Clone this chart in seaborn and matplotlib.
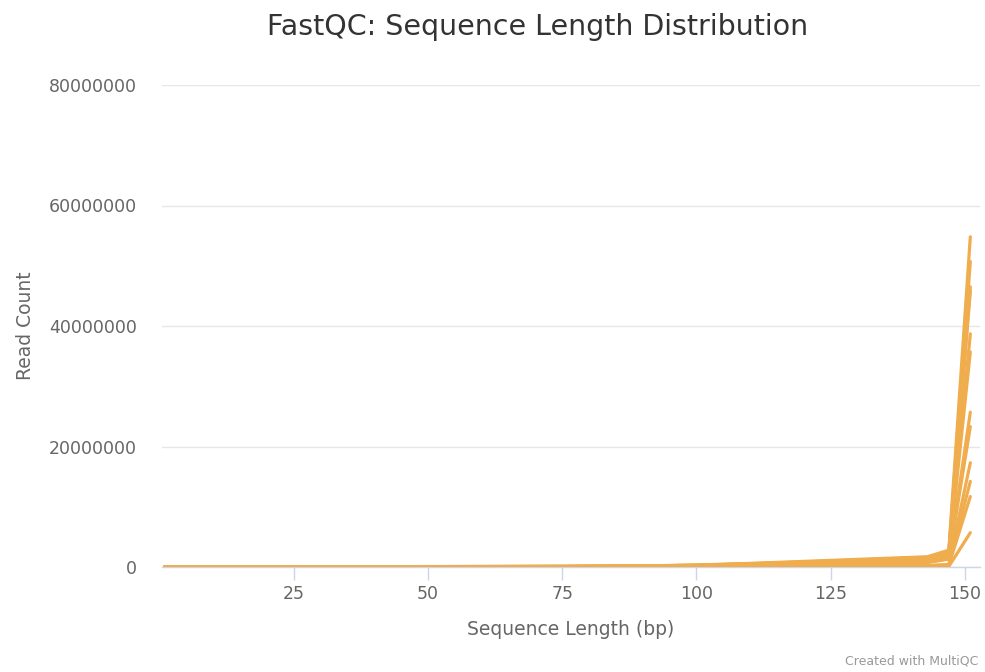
import numpy as np
import pandas as pd
import matplotlib
matplotlib.use("Agg")
import matplotlib.pyplot as plt
import seaborn as sns
from matplotlib.ticker import FixedLocator, FuncFormatter

# ---- data ----
lengths = [1, 25, 50, 75, 90, 100, 110, 125, 143, 147, 151]

s01 = [20000, 40000, 70000, 110000, 180000, 330000, 600000, 1100000, 1700000, 2800000, 54800000]
s02 = [18000, 38000, 65000, 100000, 170000, 300000, 550000, 1000000, 1600000, 2600000, 50700000]
s03 = [17000, 35000, 60000, 95000, 160000, 290000, 520000, 950000, 1500000, 2400000, 46500000]
s04 = [16000, 34000, 58000, 90000, 150000, 280000, 500000, 900000, 1400000, 2300000, 45800000]
s05 = [15000, 30000, 52000, 80000, 140000, 250000, 450000, 800000, 1200000, 2000000, 38700000]
s06 = [14000, 28000, 50000, 75000, 130000, 230000, 420000, 750000, 1100000, 1900000, 35700000]
s07 = [10000, 20000, 35000, 55000, 90000, 160000, 300000, 520000, 800000, 1400000, 25700000]
s08 = [9000, 18000, 32000, 50000, 80000, 150000, 270000, 480000, 750000, 1300000, 23300000]
s09 = [3000, 6000, 10000, 15000, 25000, 45000, 80000, 150000, 250000, 400000, 17300000]
s10 = [2500, 5000, 9000, 13000, 22000, 40000, 70000, 130000, 220000, 350000, 14200000]
s11 = [2000, 4000, 7000, 10000, 18000, 32000, 55000, 100000, 180000, 300000, 11700000]
s12 = [1000, 2000, 3000, 5000, 8000, 14000, 25000, 45000, 80000, 100000, 5700000]

samples = {
    "S01": s01, "S02": s02, "S03": s03, "S04": s04, "S05": s05, "S06": s06,
    "S07": s07, "S08": s08, "S09": s09, "S10": s10, "S11": s11, "S12": s12,
}

title = "FastQC: Sequence Length Distribution"
xlabel = "Sequence Length (bp)"
ylabel = "Read Count"
xticks = [25, 50, 75, 100, 125, 150]
yticks = [0, 20000000, 40000000, 60000000, 80000000]

rows = []
for name, vals in samples.items():
    for x, y in zip(lengths, vals):
        rows.append({"sample": name, "length": x, "count": y})
df = pd.DataFrame(rows)

sns.set_theme(style="white")
plt.rcParams["font.family"] = ["DejaVu Sans"]

fig = plt.figure(figsize=(9.85, 6.72), dpi=100)
ax = fig.add_axes([162 / 985, 1 - 567 / 672, (980 - 162) / 985, (567 - 85) / 672])

line_color = "#f0ad4e"
sns.lineplot(data=df, x="length", y="count", units="sample", estimator=None,
             color=line_color, linewidth=2.3, ax=ax, legend=False, sort=True)

ax.set_xlim(0.5, 152.8)
ax.set_ylim(0, 80000000)
ax.xaxis.set_major_locator(FixedLocator(xticks))
ax.yaxis.set_major_locator(FixedLocator(yticks))
ax.yaxis.set_major_formatter(FuncFormatter(lambda v, p: f"{int(v)}"))

ax.grid(axis="y", color="#e6e6e6", linewidth=1)
ax.grid(axis="x", visible=False)
ax.set_axisbelow(True)
for side in ["top", "right", "left"]:
    ax.spines[side].set_visible(False)
ax.spines["bottom"].set_color("#ccd6eb")
ax.spines["bottom"].set_linewidth(1)
ax.spines["bottom"].set_zorder(0.5)

ax.tick_params(axis="x", colors="#ccd6eb", length=9, width=1, direction="out",
               labelcolor="#666666", labelsize=12.5, pad=4, bottom=True)
ax.tick_params(axis="y", length=0, labelcolor="#666666", labelsize=12.5, pad=18)

ax.set_xlabel(xlabel, color="#666666", fontsize=13.5, labelpad=12)
ax.set_ylabel(ylabel, color="#666666", fontsize=13.5, labelpad=10)

fig.text(538 / 985, 1 - 27 / 672, title, ha="center", va="center",
         fontsize=20.5, color="#333333")
fig.text(978 / 985, 1 - 661 / 672, "Created with MultiQC", ha="right", va="center",
         fontsize=9, color="#999999")

fig.savefig("out.png", dpi=100)
